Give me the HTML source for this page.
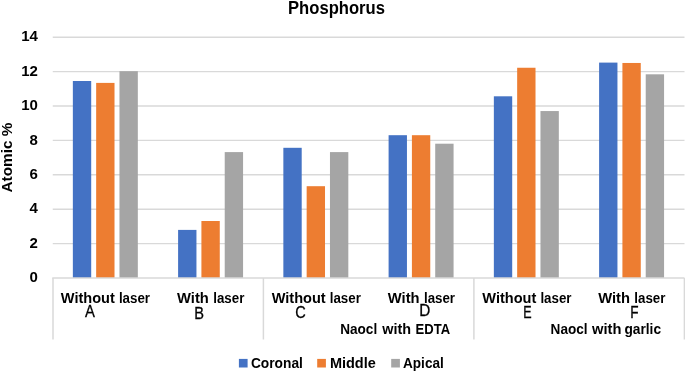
<!DOCTYPE html><html><head><meta charset="utf-8"><style>html,body{margin:0;padding:0;background:#fff;overflow:hidden}svg{display:block;will-change:transform}text{font-family:"Liberation Sans",sans-serif;fill:#000}</style></head><body>
<svg width="685" height="371" viewBox="0 0 685 371">
<rect width="685" height="371" fill="#fff"/>
<line x1="52.75" x2="684.5" y1="243.60" y2="243.60" stroke="#D9D9D9" stroke-width="1.4"/>
<line x1="52.75" x2="684.5" y1="209.20" y2="209.20" stroke="#D9D9D9" stroke-width="1.4"/>
<line x1="52.75" x2="684.5" y1="174.80" y2="174.80" stroke="#D9D9D9" stroke-width="1.4"/>
<line x1="52.75" x2="684.5" y1="140.40" y2="140.40" stroke="#D9D9D9" stroke-width="1.4"/>
<line x1="52.75" x2="684.5" y1="106.00" y2="106.00" stroke="#D9D9D9" stroke-width="1.4"/>
<line x1="52.75" x2="684.5" y1="71.60" y2="71.60" stroke="#D9D9D9" stroke-width="1.4"/>
<line x1="52.75" x2="684.5" y1="37.20" y2="37.20" stroke="#D9D9D9" stroke-width="1.4"/>
<rect x="72.85" y="81.00" width="18.35" height="197.00" fill="#4472C4"/>
<rect x="96.16" y="82.90" width="18.35" height="195.10" fill="#ED7D31"/>
<rect x="119.47" y="71.20" width="18.35" height="206.80" fill="#A5A5A5"/>
<rect x="178.10" y="229.90" width="18.35" height="48.10" fill="#4472C4"/>
<rect x="201.41" y="221.00" width="18.35" height="57.00" fill="#ED7D31"/>
<rect x="224.72" y="152.10" width="18.35" height="125.90" fill="#A5A5A5"/>
<rect x="283.35" y="147.80" width="18.35" height="130.20" fill="#4472C4"/>
<rect x="306.66" y="186.20" width="18.35" height="91.80" fill="#ED7D31"/>
<rect x="329.97" y="152.10" width="18.35" height="125.90" fill="#A5A5A5"/>
<rect x="388.60" y="135.20" width="18.35" height="142.80" fill="#4472C4"/>
<rect x="411.91" y="135.20" width="18.35" height="142.80" fill="#ED7D31"/>
<rect x="435.22" y="143.70" width="18.35" height="134.30" fill="#A5A5A5"/>
<rect x="493.85" y="96.30" width="18.35" height="181.70" fill="#4472C4"/>
<rect x="517.16" y="67.75" width="18.35" height="210.25" fill="#ED7D31"/>
<rect x="540.47" y="111.05" width="18.35" height="166.95" fill="#A5A5A5"/>
<rect x="599.10" y="62.60" width="18.35" height="215.40" fill="#4472C4"/>
<rect x="622.41" y="62.97" width="18.35" height="215.03" fill="#ED7D31"/>
<rect x="645.72" y="74.30" width="18.35" height="203.70" fill="#A5A5A5"/>
<line x1="52.25" x2="684.5" y1="278" y2="278" stroke="#D9D9D9" stroke-width="1.5"/>
<line x1="53" x2="53" y1="278" y2="339.5" stroke="#D9D9D9" stroke-width="1.5"/>
<line x1="263.4" x2="263.4" y1="278" y2="339.5" stroke="#D9D9D9" stroke-width="1.5"/>
<line x1="473.9" x2="473.9" y1="278" y2="339.5" stroke="#D9D9D9" stroke-width="1.5"/>
<line x1="684.4" x2="684.4" y1="278" y2="339.5" stroke="#D9D9D9" stroke-width="1.5"/>
<text x="336.5" y="13.8" text-anchor="middle" font-weight="bold" font-size="18.5" textLength="97" lengthAdjust="spacingAndGlyphs">Phosphorus</text>
<text transform="translate(12.3,157.6) rotate(-90)" text-anchor="middle" font-weight="bold" font-size="15.2" textLength="69.7" lengthAdjust="spacingAndGlyphs">Atomic %</text>
<text x="37.9" y="282.10" text-anchor="end" font-weight="bold" font-size="15">0</text>
<text x="37.9" y="247.70" text-anchor="end" font-weight="bold" font-size="15">2</text>
<text x="37.9" y="213.30" text-anchor="end" font-weight="bold" font-size="15">4</text>
<text x="37.9" y="178.90" text-anchor="end" font-weight="bold" font-size="15">6</text>
<text x="37.9" y="144.50" text-anchor="end" font-weight="bold" font-size="15">8</text>
<text x="37.9" y="110.10" text-anchor="end" font-weight="bold" font-size="15">10</text>
<text x="37.9" y="75.70" text-anchor="end" font-weight="bold" font-size="15">12</text>
<text x="37.9" y="41.30" text-anchor="end" font-weight="bold" font-size="15">14</text>
<text x="60.85" y="302.6" font-weight="bold" font-size="14.3" textLength="54.0" lengthAdjust="spacingAndGlyphs">Without</text>
<text x="118.90" y="302.6" font-weight="bold" font-size="14.3" textLength="31.1" lengthAdjust="spacingAndGlyphs">laser</text>
<text x="177.05" y="302.6" font-weight="bold" font-size="14.3" textLength="31.8" lengthAdjust="spacingAndGlyphs">With</text>
<text x="213.25" y="302.6" font-weight="bold" font-size="14.3" textLength="31.1" lengthAdjust="spacingAndGlyphs">laser</text>
<text x="271.70" y="302.6" font-weight="bold" font-size="14.3" textLength="54.0" lengthAdjust="spacingAndGlyphs">Without</text>
<text x="329.75" y="302.6" font-weight="bold" font-size="14.3" textLength="31.1" lengthAdjust="spacingAndGlyphs">laser</text>
<text x="387.75" y="302.6" font-weight="bold" font-size="14.3" textLength="31.8" lengthAdjust="spacingAndGlyphs">With</text>
<text x="423.95" y="302.6" font-weight="bold" font-size="14.3" textLength="31.1" lengthAdjust="spacingAndGlyphs">laser</text>
<text x="482.35" y="302.6" font-weight="bold" font-size="14.3" textLength="54.0" lengthAdjust="spacingAndGlyphs">Without</text>
<text x="540.40" y="302.6" font-weight="bold" font-size="14.3" textLength="31.1" lengthAdjust="spacingAndGlyphs">laser</text>
<text x="598.15" y="302.6" font-weight="bold" font-size="14.3" textLength="31.8" lengthAdjust="spacingAndGlyphs">With</text>
<text x="634.35" y="302.6" font-weight="bold" font-size="14.3" textLength="31.1" lengthAdjust="spacingAndGlyphs">laser</text>
<text x="90.0" y="316.7" text-anchor="middle" font-size="17.4" stroke="#000" stroke-width="0.3" textLength="9.9" lengthAdjust="spacingAndGlyphs">A</text>
<text x="199.2" y="318.9" text-anchor="middle" font-size="17.4" stroke="#000" stroke-width="0.3" textLength="9.75" lengthAdjust="spacingAndGlyphs">B</text>
<text x="300.5" y="317.6" text-anchor="middle" font-size="17.4" stroke="#000" stroke-width="0.3" textLength="10.5" lengthAdjust="spacingAndGlyphs">C</text>
<text x="424.75" y="316.1" text-anchor="middle" font-size="17.4" stroke="#000" stroke-width="0.3" textLength="11.05" lengthAdjust="spacingAndGlyphs">D</text>
<text x="527.5" y="317.9" text-anchor="middle" font-size="17.4" stroke="#000" stroke-width="0.3" textLength="8.35" lengthAdjust="spacingAndGlyphs">E</text>
<text x="634.4" y="317.8" text-anchor="middle" font-size="17.4" stroke="#000" stroke-width="0.3" textLength="8.3" lengthAdjust="spacingAndGlyphs">F</text>
<text x="340.20" y="333.6" font-weight="bold" font-size="14.5" textLength="37.0" lengthAdjust="spacingAndGlyphs">Naocl</text>
<text x="382.20" y="333.6" font-weight="bold" font-size="14.5" textLength="28.8" lengthAdjust="spacingAndGlyphs">with</text>
<text x="415.60" y="333.6" font-weight="bold" font-size="14.5" textLength="34.5" lengthAdjust="spacingAndGlyphs">EDTA</text>
<text x="550.60" y="333.6" font-weight="bold" font-size="14.5" textLength="37.0" lengthAdjust="spacingAndGlyphs">Naocl</text>
<text x="592.10" y="333.6" font-weight="bold" font-size="14.5" textLength="29.4" lengthAdjust="spacingAndGlyphs">with</text>
<text x="624.45" y="333.6" font-weight="bold" font-size="14.5" textLength="36.6" lengthAdjust="spacingAndGlyphs">garlic</text>
<rect x="238.9" y="358.9" width="8.7" height="8.6" fill="#4472C4"/>
<text x="250.9" y="367.8" font-weight="bold" font-size="14" textLength="51.96" lengthAdjust="spacingAndGlyphs">Coronal</text>
<rect x="317.2" y="358.9" width="8.7" height="8.6" fill="#ED7D31"/>
<text x="329.9" y="367.8" font-weight="bold" font-size="14" textLength="45.9" lengthAdjust="spacingAndGlyphs">Middle</text>
<rect x="391.2" y="358.9" width="8.7" height="8.6" fill="#A5A5A5"/>
<text x="403.0" y="367.8" font-weight="bold" font-size="14" textLength="40.76" lengthAdjust="spacingAndGlyphs">Apical</text>
</svg></body></html>
